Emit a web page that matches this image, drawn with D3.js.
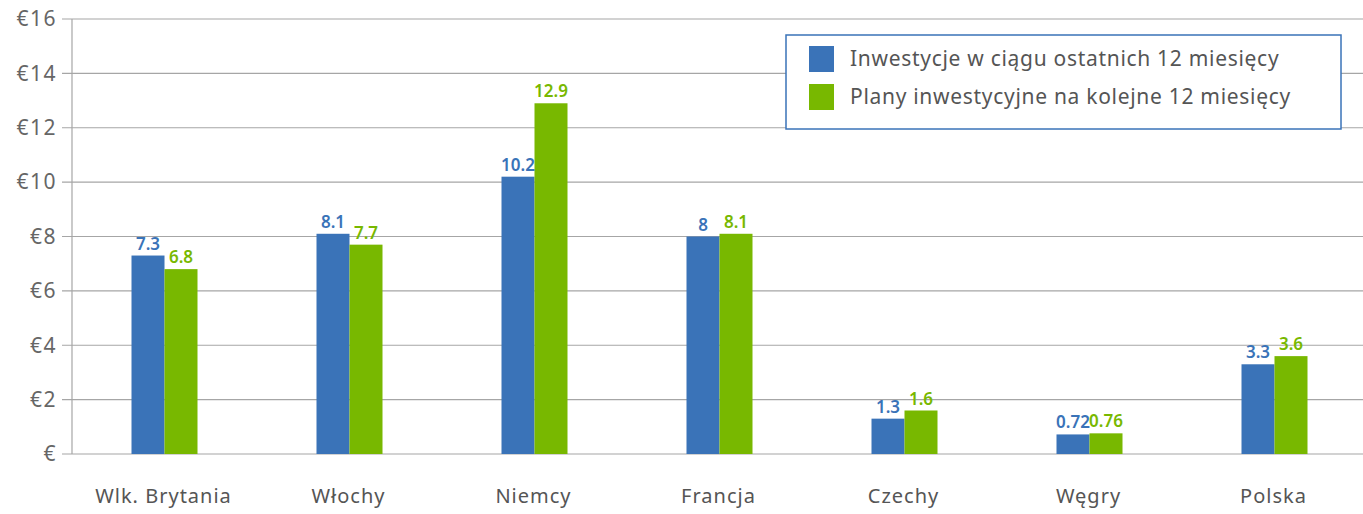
<!DOCTYPE html>
<html>
<head>
<meta charset="utf-8">
<script src="https://cdn.jsdelivr.net/npm/d3@7"></script>
<style>
  body { margin: 0; background: #fff; }
  svg { display: block; font-family: "Noto Sans", "DejaVu Sans", sans-serif; }
</style>
</head>
<body>
<div id="chart"></div>
<script>
const categories = ["Wlk. Brytania", "Włochy", "Niemcy", "Francja", "Czechy", "Węgry", "Polska"];
const seriesNames = ["Inwestycje w ciągu ostatnich 12 miesięcy", "Plany inwestycyjne na kolejne 12 miesięcy"];
const lastYear = [7.3, 8.1, 10.2, 8, 1.3, 0.72, 3.3];
const nextYear = [6.8, 7.7, 12.9, 8.1, 1.6, 0.76, 3.6];
const yTicks = [0, 2, 4, 6, 8, 10, 12, 14, 16];

const colors = ["#3a73b8", "#78b800"];
const width = 1363, height = 514;
const margin = { top: 19, right: 0, bottom: 60, left: 72 };

const svg = d3.select("#chart").append("svg")
    .attr("width", width)
    .attr("height", height);

const x = d3.scaleBand()
    .domain(categories)
    .range([margin.left, margin.left + 185 * categories.length])
    .paddingInner(0)
    .paddingOuter(0);

const xSub = d3.scaleBand()
    .domain([0, 1])
    .range([x.bandwidth() / 2 - 33, x.bandwidth() / 2 + 33]);

const y = d3.scaleLinear()
    .domain([0, 16])
    .range([height - margin.bottom, margin.top]);

// gridlines
svg.append("g")
    .selectAll("line")
    .data(yTicks)
    .enter().append("line")
    .attr("x1", margin.left - 10)
    .attr("x2", width)
    .attr("y1", d => y(d))
    .attr("y2", d => y(d))
    .attr("stroke", "#a6a6a6")
    .attr("stroke-width", 1.2);

// y axis line
svg.append("line")
    .attr("x1", margin.left).attr("x2", margin.left)
    .attr("y1", y(16)).attr("y2", y(0))
    .attr("stroke", "#a6a6a6")
    .attr("stroke-width", 1.2);

// y tick labels
svg.append("g")
    .selectAll("text")
    .data(yTicks)
    .enter().append("text")
    .attr("x", margin.left - 15)
    .attr("y", d => y(d))
    .attr("dy", "0.35em")
    .attr("text-anchor", "end")
    .attr("font-size", "21px")
    .attr("letter-spacing", "1.5px")
    .attr("fill", "#666")
    .text(d => d === 0 ? "€" : "€" + d);

const series = [lastYear, nextYear];
const rows = categories.map((c, i) => ({ cat: c, values: series.map(s => s[i]) }));

const groups = svg.append("g")
    .selectAll("g")
    .data(rows)
    .enter().append("g")
    .attr("transform", d => `translate(${x(d.cat)},0)`);

groups.selectAll("rect")
    .data(d => d.values.map((v, k) => ({ k, v })))
    .enter().append("rect")
    .attr("x", d => xSub(d.k))
    .attr("width", xSub.bandwidth())
    .attr("y", d => y(d.v))
    .attr("height", d => y(0) - y(d.v))
    .attr("fill", d => colors[d.k]);

groups.selectAll("text")
    .data(d => d.values.map((v, k) => ({ k, v })))
    .enter().append("text")
    .attr("x", d => xSub(d.k) + xSub.bandwidth() / 2)
    .attr("y", d => y(d.v) - 6)
    .attr("text-anchor", "middle")
    .attr("font-size", "17px")
    .attr("font-weight", 600)
    .attr("fill", d => colors[d.k])
    .text(d => d.v);

// category labels
svg.append("g")
    .selectAll("text")
    .data(categories)
    .enter().append("text")
    .attr("x", d => x(d) + x.bandwidth() / 2 - 1)
    .attr("y", 503)
    .attr("text-anchor", "middle")
    .attr("font-size", "20px")
    .attr("letter-spacing", "1px")
    .attr("fill", "#555")
    .text(d => d);

// legend
const legend = svg.append("g").attr("transform", "translate(786,35)");
legend.append("rect")
    .attr("width", 555)
    .attr("height", 94)
    .attr("fill", "#fff")
    .attr("stroke", "#3a73b8")
    .attr("stroke-width", 1.5);

const li = legend.selectAll("g.item")
    .data(seriesNames)
    .enter().append("g")
    .attr("class", "item")
    .attr("transform", (d, i) => `translate(23,${11 + i * 38})`);

li.append("rect")
    .attr("width", 25)
    .attr("height", 26)
    .attr("fill", (d, i) => colors[i]);

li.append("text")
    .attr("x", 41)
    .attr("y", 13)
    .attr("dy", "0.35em")
    .attr("font-size", "21px")
    .attr("letter-spacing", "0.7px")
    .attr("fill", "#555")
    .text(d => d);
</script>
</body>
</html>
